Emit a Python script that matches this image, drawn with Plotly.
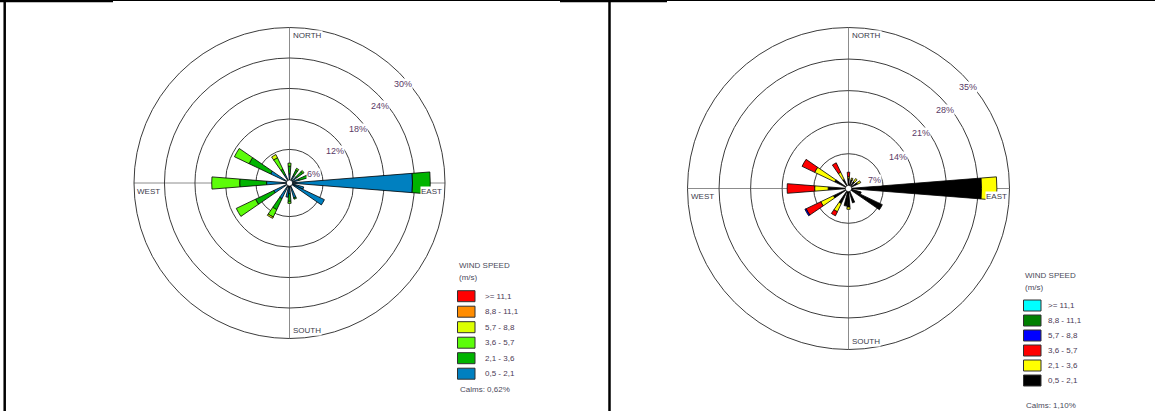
import plotly.graph_objects as go

W, H = 1155, 411

# ---------------- data ----------------
directions = [0, 10, 20, 30, 40, 50, 60, 70, 80, 90, 100, 110, 120, 130, 140, 150, 160, 170,
              180, 190, 200, 210, 220, 230, 240, 250, 260, 270, 280, 290, 300, 310, 320, 330, 340, 350]

speed_labels = [">= 11,1", "8,8 - 11,1", "5,7 - 8,8", "3,6 - 5,7", "2,1 - 3,6", "0,5 - 2,1"]

# left rose: frequency (%) per direction, one list per speed class (lowest class first)
left_05_21 = [1.2, 0, 0, 1.0, 0, 1.1, 0, 1.3, 0, 23.6, 0, 2.3, 7.0, 0, 0, 0, 2.4, 0,
              1.5, 2.2, 0, 2.8, 0, 0, 2.8, 0, 0, 3.9, 0, 0, 3.5, 0, 0, 1.2, 0, 0]
left_21_36 = [1.5, 0, 0, 1.2, 0, 1.5, 0, 1.8, 0, 3.5, 0, 0, 0, 0, 0, 0, 0.3, 0,
              1.5, 0, 0, 2.4, 0, 0, 4.0, 0, 0, 5.3, 0, 0, 4.7, 0, 0, 1.2, 0, 0]
left_36_57 = [0.6, 0, 0, 0.4, 0, 0.3, 0, 0.3, 0, 0, 0, 0, 0, 0, 0, 0, 0, 0,
              0.4, 0, 0, 1.6, 0, 0, 4.2, 0, 0, 5.5, 0, 0, 3.2, 0, 0, 2.5, 0, 0]
left_57_88 = [0, 0, 0, 0, 0, 0, 0, 0, 0, 0, 0, 0, 0, 0, 0, 0, 0, 0,
              0, 0, 0, 0.3, 0, 0, 0, 0, 0, 0, 0, 0, 0, 0, 0, 0.7, 0, 0]
left_88_111 = [0, 0, 0, 0, 0, 0, 0, 0, 0, 0, 0, 0, 0, 0, 0, 0, 0, 0,
               0, 0, 0, 0, 0, 0, 0, 0, 0, 0, 0, 0, 0, 0, 0, 0, 0, 0]
left_ge_111 = [0, 0, 0, 0, 0, 0, 0, 0, 0, 0, 0, 0, 0, 0, 0, 0, 0, 0,
               0, 0, 0, 0, 0, 0, 0, 0, 0, 0, 0, 0, 0, 0, 0, 0, 0, 0]
left_colors = ["#0080c0", "#00b400", "#5cfc0a", "#dcff00", "#ff8c00", "#ff0000"]
left_rings = [6, 12, 18, 24, 30]
left_calms = "Calms: 0,62%"

# right rose
right_05_21 = [1.5, 0, 1.3, 0, 1.2, 0, 1.5, 0, 0, 28.8, 0, 2.2, 7.6, 0, 0, 0, 2.6, 0,
               3.4, 3.2, 0, 3.0, 0, 0, 3.0, 0, 0, 3.8, 0, 0, 2.7, 0, 0, 1.5, 0, 0]
right_21_36 = [0.4, 0, 0.4, 0, 0.8, 0, 0.8, 0, 0, 3.4, 0, 0, 0, 0, 0, 0, 0, 0,
               0.5, 0, 0, 2.0, 0, 0, 3.1, 0, 0, 3.0, 0, 0, 4.9, 0, 0, 1.8, 0, 0]
right_36_57 = [1.0, 0, 0, 0, 0, 0, 0, 0, 0, 0, 0, 0, 0, 0, 0, 0, 0, 0,
               0, 0, 0, 1.0, 0, 0, 3.6, 0, 0, 6.1, 0, 0, 3.1, 0, 0, 2.3, 0, 0]
right_57_88 = [0, 0, 0, 0, 0, 0, 0, 0, 0, 0, 0, 0, 0, 0, 0, 0, 0, 0,
               0, 0, 0, 0, 0, 0, 0.3, 0, 0, 0, 0, 0, 0, 0, 0, 0, 0, 0]
right_88_111 = [0, 0, 0, 0, 0, 0, 0, 0, 0, 0, 0, 0, 0, 0, 0, 0, 0, 0,
                0, 0, 0, 0, 0, 0, 0, 0, 0, 0, 0, 0, 0, 0, 0, 0, 0, 0]
right_ge_111 = [0, 0, 0, 0, 0, 0, 0, 0, 0, 0, 0, 0, 0, 0, 0, 0, 0, 0,
                0, 0, 0, 0, 0, 0, 0, 0, 0, 0, 0, 0, 0, 0, 0, 0, 0, 0]
right_colors = ["#000000", "#ffff00", "#ff0000", "#0000ff", "#008000", "#00ffff"]
right_rings = [7, 14, 21, 28, 35]
right_calms = "Calms: 1,10%"

compass = ["NORTH", "EAST", "SOUTH", "WEST"]

# ---------------- figure ----------------
fig = go.Figure()

left_series = [left_05_21, left_21_36, left_36_57, left_57_88, left_88_111, left_ge_111]
right_series = [right_05_21, right_21_36, right_36_57, right_57_88, right_88_111, right_ge_111]
class_names = speed_labels[::-1]

for vals, col, name in zip(left_series, left_colors, class_names):
    fig.add_trace(go.Barpolar(r=vals, theta=directions, width=9, name=name, subplot="polar",
                              marker=dict(color=col, line=dict(color="#000000", width=0.8)),
                              showlegend=False))
for vals, col, name in zip(right_series, right_colors, class_names):
    fig.add_trace(go.Barpolar(r=vals, theta=directions, width=9, name=name, subplot="polar2",
                              marker=dict(color=col, line=dict(color="#000000", width=0.8)),
                              showlegend=False))

# geometry (pixels)
L = dict(cx=289.5, cy=183.0, R=155.5)
Rg = dict(cx=848.5, cy=188.5, R=161.0)


def polar_cfg(g, rings):
    return dict(
        domain=dict(x=[(g["cx"] - g["R"]) / W, (g["cx"] + g["R"]) / W],
                    y=[1 - (g["cy"] + g["R"]) / H, 1 - (g["cy"] - g["R"]) / H]),
        bgcolor="white",
        hole=0.02,
        barmode="stack",
        radialaxis=dict(range=[0, rings[-1]], tickvals=rings, showticklabels=False, ticks="",
                        showline=False, gridcolor="#3c3c3c", gridwidth=1, layer="below traces"),
        angularaxis=dict(rotation=90, direction="clockwise", tickvals=[0, 90, 180, 270],
                         showticklabels=False, ticks="", showgrid=True, gridcolor="#8c8c8c",
                         gridwidth=1, showline=True, linecolor="#3c3c3c", linewidth=1,
                         layer="below traces"),
    )


annotations = []
shapes = []
FONT = "Liberation Sans, Arial, sans-serif"


def ann(text, x, y, xanchor="left", size=8, color="#3a3a4a", bg="rgba(0,0,0,0)"):
    annotations.append(dict(text=text, x=x / W, y=1 - y / H, xref="paper", yref="paper",
                            xanchor=xanchor, yanchor="middle", showarrow=False,
                            font=dict(family=FONT, size=size, color=color),
                            bgcolor=bg, borderpad=0))


def rose_text(g, rings, first_off, step):
    cx, cy, R = g["cx"], g["cy"], g["R"]
    ann(compass[0], cx + 2, cy - R + 8, bg="white")
    ann(compass[2], cx + 2, cy + R - 8, bg="white")
    ann(compass[1], cx + R - 2, cy + 8, xanchor="right", bg="white")
    ann(compass[3], cx - R + 2, cy + 8, bg="white")
    for k, v in enumerate(rings):
        ann(f"{v}%", cx + first_off[0] + k * step[0], cy + first_off[1] + k * step[1],
            xanchor="center", size=9, color="#5a3a66", bg="white")


def legend(x0, y_title, y_box0, dy, colors, label_x, calms_y, calms):
    ann("WIND SPEED", x0, y_title, size=8, color="#4a4a5a")
    ann("(m/s)", x0, y_title + 12, size=8, color="#4a4a5a")
    for i, (lab, col) in enumerate(zip(speed_labels, colors[::-1])):
        top = y_box0 + i * dy
        shapes.append(dict(type="rect", xref="paper", yref="paper",
                           x0=x0 / W, x1=(x0 + 17.5) / W,
                           y0=1 - (top + 11) / H, y1=1 - top / H,
                           fillcolor=col, line=dict(color="#303030", width=1)))
        ann(lab, label_x, top + 5.5, size=8, color="#4a3a55")
    ann(calms, x0 + 1, calms_y, size=8, color="#4a4a5a")


rose_text(L, left_rings, (23.5, -9.0), (22.4, -22.6))
rose_text(Rg, right_rings, (25.5, -8.5), (23.6, -23.3))
legend(457.5, 265, 290.7, 15.5, left_colors, 484, 389, left_calms)
legend(1023.5, 275, 300, 15.0, right_colors, 1047, 405, right_calms)

# page frame lines
def hline(x0, x1, y, w):
    shapes.append(dict(type="line", xref="paper", yref="paper", x0=x0 / W, x1=x1 / W,
                       y0=1 - y / H, y1=1 - y / H, line=dict(color="black", width=w)))


def vline(x, y0, y1, w):
    shapes.append(dict(type="line", xref="paper", yref="paper", x0=x / W, x1=x / W,
                       y0=1 - y0 / H, y1=1 - y1 / H, line=dict(color="black", width=w)))


hline(0, W, 0.5, 1)
hline(0, 113, 1.0, 2.5)
hline(560, 667, 1.0, 2.5)
vline(4.7, 0, H, 2.5)
vline(609.5, 0, H, 2.5)

fig.update_layout(
    width=W, height=411,
    margin=dict(l=0, r=0, t=0, b=0),
    paper_bgcolor="white", plot_bgcolor="white",
    polar=polar_cfg(L, left_rings),
    polar2=polar_cfg(Rg, right_rings),
    annotations=annotations,
    shapes=shapes,
    showlegend=False,
)

fig.write_html("out.html")
